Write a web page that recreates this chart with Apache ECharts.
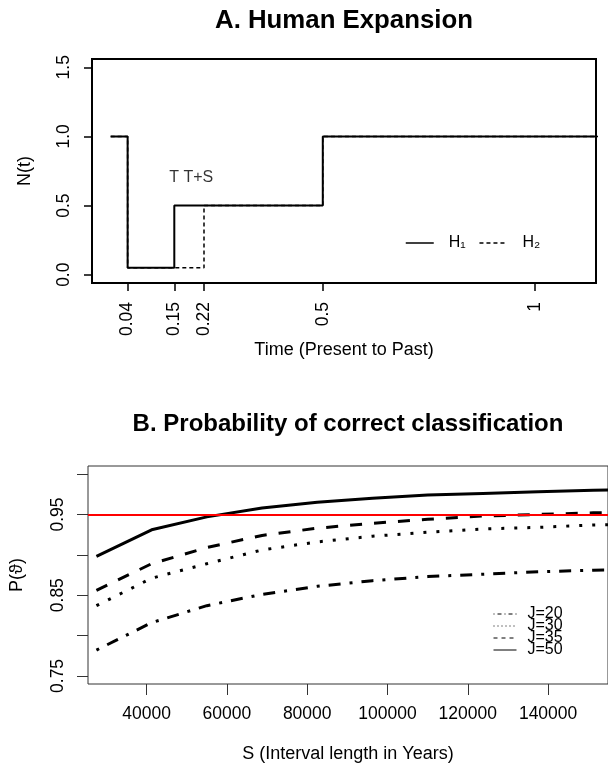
<!DOCTYPE html>
<html>
<head>
<meta charset="utf-8">
<script src="https://cdn.jsdelivr.net/npm/echarts@6/dist/echarts.min.js"></script>
<style>
  html, body { margin: 0; padding: 0; background: #fff; }
  #chart { width: 608px; height: 767px; }
</style>
</head>
<body>
<div id="chart"></div>
<script>
// panel A: population size steps (time from present to past)
const h1Time = [0, 0.04, 0.15, 0.5, 1.15]
const h1Size = [1, 0.05, 0.5, 1, 1]
const h2Time = [0, 0.04, 0.22, 0.5, 1.15]
const h2Size = [1, 0.05, 0.5, 1, 1]
const timeTicks = [0.04, 0.15, 0.22, 0.5, 1]
const sizeTicks = [0, 0.5, 1, 1.5]
const markText = 'T T+S'
const markPos = [0.19, 0.7]

// panel B: probability of correct classification
const intervalYears = [27500, 41250, 55000, 68750, 82500, 96250, 110000, 123750, 137500, 151250, 165000]
const pJ20 = [0.782, 0.816, 0.837, 0.851, 0.861, 0.868, 0.873, 0.876, 0.879, 0.881, 0.882]
const pJ30 = [0.837, 0.871, 0.889, 0.906, 0.916, 0.923, 0.928, 0.932, 0.934, 0.937, 0.938]
const pJ35 = [0.856, 0.889, 0.909, 0.924, 0.933, 0.939, 0.944, 0.948, 0.950, 0.952, 0.953]
const pJ50 = [0.898, 0.931, 0.947, 0.958, 0.965, 0.970, 0.974, 0.976, 0.978, 0.980, 0.981]
const threshold = 0.95
const yearTicks = [40000, 60000, 80000, 100000, 120000, 140000]
const probTicks = [0.75, 0.8, 0.85, 0.9, 0.95, 1.0]
const probLabels = [0.75, 0.85, 0.95]

const FONT = "'Liberation Sans', Arial, Helvetica, sans-serif"
const zip = (xs, ys) => xs.map((x, i) => [x, ys[i]])

const chart = echarts.init(document.getElementById('chart'))

const lineSeries = (name, ys, dash) => ({
  name: name,
  type: 'line',
  xAxisIndex: 1,
  yAxisIndex: 1,
  data: zip(intervalYears, ys),
  symbol: 'none',
  lineStyle: { color: '#000', width: 3, type: dash, cap: 'butt' },
})

const option = {
  animation: false,
  backgroundColor: '#fff',
  textStyle: { fontFamily: FONT, color: '#000' },
  title: [
    {
      text: 'A. Human Expansion',
      left: 344, top: 8, textAlign: 'center', padding: 0,
      textStyle: { fontFamily: FONT, fontSize: 25.8, fontWeight: 'bold', color: '#000' },
    },
    {
      text: 'B. Probability of correct classification',
      left: 348, top: 412, textAlign: 'center', padding: 0,
      textStyle: { fontFamily: FONT, fontSize: 24, fontWeight: 'bold', color: '#000' },
    },
  ],
  legend: [
    {
      data: ['H₁', 'H₂'],
      orient: 'horizontal',
      left: 405, top: 235,
      padding: 0,
      itemWidth: 28, itemHeight: 14, itemGap: 13,
      selectedMode: false,
      itemStyle: { color: 'rgba(0,0,0,0)', borderWidth: 0 },
      lineStyle: { width: 1.5 },
      textStyle: { fontFamily: FONT, fontSize: 16, color: '#000', padding: [0, 0, 0, 10] },
    },
    {
      data: [
        { name: 'J=20', lineStyle: { width: 1, type: [1, 3, 4, 3] } },
        { name: 'J=30', lineStyle: { width: 1, type: [1, 3] } },
        { name: 'J=35', lineStyle: { width: 1, type: [4, 4] } },
        { name: 'J=50', lineStyle: { width: 1, type: 'solid' } },
      ],
      orient: 'vertical',
      left: 493, top: 606,
      padding: 0,
      itemWidth: 23, itemHeight: 12, itemGap: -4,
      selectedMode: false,
      itemStyle: { color: 'rgba(0,0,0,0)', borderWidth: 0 },
      textStyle: { fontFamily: FONT, fontSize: 16, lineHeight: 12, color: '#000', padding: [0, 0, 0, 6] },
    },
  ],
  grid: [
    { left: 92, right: 12, top: 59, bottom: 484, show: true, borderColor: '#000', borderWidth: 2, backgroundColor: 'transparent' },
    { left: 88, right: -2, top: 466, bottom: 83, show: true, borderColor: '#333', borderWidth: 1, backgroundColor: 'transparent' },
  ],
  xAxis: [
    {
      type: 'value', gridIndex: 0,
      min: -0.044, max: 1.144,
      splitLine: { show: false },
      axisLine: { show: false, onZero: false },
      axisTick: { show: true, length: 8, customValues: timeTicks, lineStyle: { color: '#000', width: 1.5 } },
      axisLabel: {
        customValues: timeTicks, rotate: 90, margin: 19,
        fontFamily: FONT, fontSize: 17.5, color: '#000',
        formatter: (v) => String(v),
      },
      name: 'Time (Present to Past)',
      nameLocation: 'middle', nameGap: 58,
      nameTextStyle: { fontFamily: FONT, fontSize: 18, color: '#000' },
    },
    {
      type: 'value', gridIndex: 1,
      min: 25400, max: 154920,
      splitLine: { show: false },
      axisLine: { show: false, onZero: false },
      axisTick: { show: true, length: 11, customValues: yearTicks, lineStyle: { color: '#333', width: 1 } },
      axisLabel: {
        customValues: yearTicks, margin: 21,
        fontFamily: FONT, fontSize: 17.5, color: '#000',
        formatter: (v) => String(v),
      },
      name: 'S (Interval length in Years)',
      nameLocation: 'middle', nameGap: 61,
      nameTextStyle: { fontFamily: FONT, fontSize: 18, color: '#000' },
    },
  ],
  yAxis: [
    {
      type: 'value', gridIndex: 0,
      min: -0.06, max: 1.56,
      splitLine: { show: false },
      axisLine: { show: false, onZero: false },
      axisTick: { show: true, length: 8, customValues: sizeTicks, lineStyle: { color: '#000', width: 1.5 } },
      axisLabel: {
        customValues: sizeTicks, rotate: 90, margin: 19,
        fontFamily: FONT, fontSize: 17.5, color: '#000',
        formatter: (v) => v.toFixed(1),
      },
      name: 'N(t)',
      nameLocation: 'middle', nameGap: 58, nameRotate: 90,
      nameTextStyle: { fontFamily: FONT, fontSize: 18, color: '#000' },
    },
    {
      type: 'value', gridIndex: 1,
      min: 0.74, max: 1.01,
      splitLine: { show: false },
      axisLine: { show: false, onZero: false },
      axisTick: { show: true, length: 11, customValues: probTicks, lineStyle: { color: '#333', width: 1 } },
      axisLabel: {
        customValues: probLabels, rotate: 90, margin: 21,
        fontFamily: FONT, fontSize: 17.5, color: '#000',
        formatter: (v) => v.toFixed(2),
      },
      name: 'P(ϑ)',
      nameLocation: 'middle', nameGap: 62, nameRotate: 90,
      nameTextStyle: { fontFamily: FONT, fontSize: 18, color: '#000' },
    },
  ],
  series: [
    {
      name: 'H₁', type: 'line', xAxisIndex: 0, yAxisIndex: 0,
      data: zip(h1Time, h1Size), step: 'end', symbol: 'none',
      lineStyle: { color: '#000', width: 2 },
    },
    {
      name: 'H₂', type: 'line', xAxisIndex: 0, yAxisIndex: 0,
      data: zip(h2Time, h2Size), step: 'end', symbol: 'none',
      lineStyle: { color: '#000', width: 1.5, type: [4, 3] },
    },
    {
      // annotation text for the two change points
      type: 'scatter', xAxisIndex: 0, yAxisIndex: 0,
      data: [markPos], symbolSize: 0, silent: true,
      label: { show: true, position: 'inside', formatter: markText, fontFamily: FONT, fontSize: 16, color: '#000' },
    },
    lineSeries('J=20', pJ20, [3, 9, 12, 9]),
    lineSeries('J=30', pJ30, [3, 10]),
    lineSeries('J=35', pJ35, [12, 12]),
    Object.assign(lineSeries('J=50', pJ50, 'solid'), {
      markLine: {
        silent: true, symbol: 'none',
        label: { show: false },
        lineStyle: { color: '#ff0000', width: 2, type: 'solid' },
        data: [{ yAxis: threshold }],
      },
    }),
  ],
}

chart.setOption(option)
</script>
</body>
</html>
